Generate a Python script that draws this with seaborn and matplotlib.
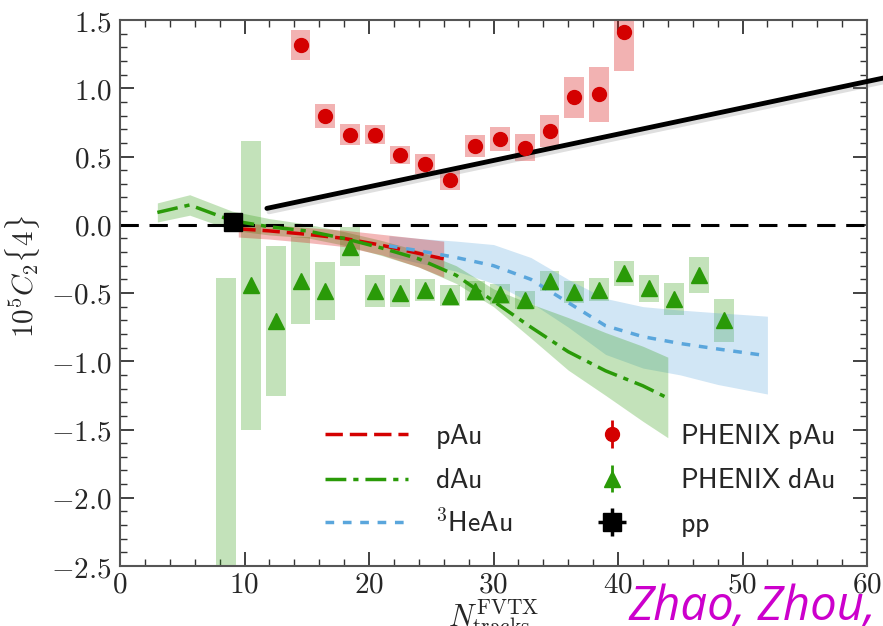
import numpy as np
import pandas as pd
import matplotlib
matplotlib.use("Agg")
import matplotlib.pyplot as plt
import matplotlib.patheffects as pe
from matplotlib.ticker import FuncFormatter, MultipleLocator
import seaborn as sns

# ---------------- data ----------------
# PHENIX pAu (points + systematic boxes)
pau_x = [14.5, 16.5, 18.5, 20.5, 22.5, 24.5, 26.5, 28.5, 30.5, 32.5, 34.5, 36.5, 38.5, 40.5]
pau_y = [1.32, 0.80, 0.66, 0.66, 0.51, 0.445, 0.33, 0.575, 0.625, 0.565, 0.685, 0.935, 0.955, 1.41]
pau_sys = [0.11, 0.088, 0.077, 0.072, 0.067, 0.07, 0.072, 0.08, 0.088, 0.10, 0.117, 0.15, 0.20, 0.28]

# PHENIX dAu
dau_x = [8.5, 10.5, 12.5, 14.5, 16.5, 18.5, 20.5, 22.5, 24.5, 26.5, 28.5,
         30.5, 32.5, 34.5, 36.5, 38.5, 40.5, 42.5, 44.5, 46.5, 48.5]
dau_y = [-3.0, -0.445, -0.705, -0.41, -0.485, -0.16, -0.485, -0.50, -0.476, -0.52, -0.485,
         -0.505, -0.55, -0.41, -0.49, -0.475, -0.357, -0.467, -0.545, -0.368, -0.70]
dau_sys = [2.61, 1.055, 0.547, 0.32, 0.21, 0.14, 0.12, 0.10, 0.08, 0.075, 0.073,
           0.073, 0.067, 0.073, 0.08, 0.083, 0.094, 0.10, 0.116, 0.135, 0.156]

# pp point
pp_x = [9.1]
pp_y = [0.017]

# theory: pAu
th_pau_x = [9.5, 12, 15, 18, 21, 24, 26]
th_pau_y = [-0.03, -0.045, -0.07, -0.10, -0.15, -0.21, -0.25]
th_pau_hi = [0.015, 0.0, -0.02, -0.04, -0.07, -0.10, -0.12]
th_pau_lo = [-0.09, -0.105, -0.13, -0.16, -0.22, -0.31, -0.385]

# theory: dAu
th_dau_x = [3, 5.6, 9, 12, 15, 18, 21, 24, 27, 30, 33, 36, 39, 42, 44]
th_dau_y = [0.09, 0.145, 0.03, -0.015, -0.045, -0.10, -0.17, -0.25, -0.37, -0.56, -0.75, -0.93, -1.07, -1.18, -1.27]
th_dau_hi = [0.16, 0.22, 0.10, 0.045, 0.005, -0.05, -0.115, -0.19, -0.30, -0.47, -0.58, -0.68, -0.79, -0.89, -0.97]
th_dau_lo = [0.02, 0.07, -0.04, -0.075, -0.095, -0.15, -0.225, -0.31, -0.43, -0.60, -0.83, -1.065, -1.25, -1.44, -1.56]

# theory: 3HeAu
th_he_x = [21.6, 24, 27, 30, 33, 36, 39, 42, 45, 48, 52]
th_he_y = [-0.155, -0.19, -0.24, -0.30, -0.40, -0.57, -0.74, -0.82, -0.87, -0.91, -0.96]
th_he_hi = [-0.08, -0.10, -0.12, -0.145, -0.24, -0.40, -0.54, -0.60, -0.625, -0.645, -0.67]
th_he_lo = [-0.23, -0.28, -0.34, -0.43, -0.57, -0.75, -0.95, -1.05, -1.10, -1.17, -1.24]

# black trend line (endpoints)
trend_x = [11.8, 62.0]
trend_y = [0.12, 1.088]

# ---------------- style ----------------
sns.set_style("ticks")
plt.rcParams["mathtext.fontset"] = "cm"
plt.rcParams["font.family"] = ["DejaVu Sans"]

RED = "#d40000"
GREEN = "#2a9a08"
BLUE = "#5aa6dc"

fig = plt.figure(figsize=(8.83, 6.26), dpi=100)
ax = fig.add_axes([120 / 883, 1 - 566 / 626, (867 - 120) / 883, (566 - 20) / 626])

# systematic boxes
ax.bar(dau_x, [2 * s for s in dau_sys], bottom=[y - s for y, s in zip(dau_y, dau_sys)],
       width=1.6, color=GREEN, alpha=0.28, linewidth=0, zorder=1)
ax.bar(pau_x, [2 * s for s in pau_sys], bottom=[y - s for y, s in zip(pau_y, pau_sys)],
       width=1.6, color=RED, alpha=0.3, linewidth=0, zorder=1)

# theory bands
ax.fill_between(th_he_x, th_he_lo, th_he_hi, color=BLUE, alpha=0.28, linewidth=0, zorder=2)
ax.fill_between(th_dau_x, th_dau_lo, th_dau_hi, color=GREEN, alpha=0.28, linewidth=0, zorder=2)
ax.fill_between(th_pau_x, th_pau_lo, th_pau_hi, color=RED, alpha=0.28, linewidth=0, zorder=2)

# zero line
ax.axhline(0, color="black", lw=2.2, ls=(0, (6, 3.5)), zorder=2.5)

# theory lines via seaborn
df_pau = pd.DataFrame({"x": th_pau_x, "y": th_pau_y})
df_dau = pd.DataFrame({"x": th_dau_x, "y": th_dau_y})
df_he = pd.DataFrame({"x": th_he_x, "y": th_he_y})
sns.lineplot(data=df_pau, x="x", y="y", ax=ax, color=RED, lw=2.5,
             linestyle=(0, (5, 2)), label="$\\mathsf{pAu}$", zorder=4)
sns.lineplot(data=df_dau, x="x", y="y", ax=ax, color=GREEN, lw=2.5,
             linestyle=(0, (6, 2, 1.5, 2)), label="$\\mathsf{dAu}$", zorder=4)
sns.lineplot(data=df_he, x="x", y="y", ax=ax, color=BLUE, lw=2.5,
             linestyle=(0, (2.5, 2.5)), label="$^3\\mathsf{HeAu}$", zorder=4)

# trend line with shadow
ax.plot(trend_x, trend_y, color="black", lw=3.5, clip_on=False, zorder=5,
        path_effects=[pe.SimpleLineShadow(offset=(1.5, -2.5), alpha=0.25, shadow_color="gray"),
                      pe.Normal()])

# data points
e1 = ax.errorbar(pau_x, pau_y, yerr=[0.02] * len(pau_x), fmt="o", color=RED, ms=10,
                 elinewidth=2, capsize=0, zorder=6, label="$\\mathsf{PHENIX\\ pAu}$")
e2 = ax.errorbar(dau_x, dau_y, yerr=[0.02] * len(dau_x), fmt="^", color=GREEN, ms=11,
                 elinewidth=2, capsize=0, zorder=6, label="$\\mathsf{PHENIX\\ dAu}$")
e3 = ax.errorbar(pp_x, pp_y, xerr=[0.4], yerr=[0.03], fmt="s", color="black", ms=13,
                 elinewidth=2.5, capsize=0, zorder=7, label="$\\mathsf{pp}$")

# axes
ax.set_xlim(0, 60)
ax.set_ylim(-2.5, 1.5)
ax.xaxis.set_major_locator(MultipleLocator(10))
ax.xaxis.set_minor_locator(MultipleLocator(2))
ax.yaxis.set_major_locator(MultipleLocator(0.5))
ax.yaxis.set_minor_locator(MultipleLocator(0.1))
ax.xaxis.set_major_formatter(FuncFormatter(lambda v, p: f"${int(round(v))}$"))
ax.yaxis.set_major_formatter(FuncFormatter(lambda v, p: f"${v:.1f}$"))
ax.tick_params(which="both", direction="in", top=True, right=True, color="#333333")
ax.tick_params(which="major", length=10, width=1.3, labelsize=21)
ax.tick_params(which="minor", length=5, width=1.0)
ax.tick_params(axis="x", which="major", pad=3)
ax.tick_params(axis="y", which="major", pad=6)
for s in ax.spines.values():
    s.set_color("#555555")
    s.set_linewidth(1.5)

ax.set_xlabel("$N^{\\rm FVTX}_{\\rm tracks}$", fontsize=22)
ax.xaxis.set_label_coords(0.5, -0.058)
ax.set_ylabel("$10^5C_2\\{4\\}$", fontsize=21)
ax.yaxis.set_label_coords(-0.105, 0.53)

# legend
h, l = ax.get_legend_handles_labels()
order = ["$\\mathsf{pAu}$", "$\\mathsf{dAu}$", "$^3\\mathsf{HeAu}$",
         "$\\mathsf{PHENIX\\ pAu}$", "$\\mathsf{PHENIX\\ dAu}$", "$\\mathsf{pp}$"]
hd = dict(zip(l, h))
leg = ax.legend([hd[k] for k in order], order, ncol=2, loc="upper left",
                bbox_to_anchor=((325 - 120) / 747, (566 - 422) / 546),
                frameon=False, fontsize=20, borderpad=0, borderaxespad=0,
                handlelength=3.0, handletextpad=0.95, columnspacing=2.1,
                labelspacing=0.55)

fig.text(628 / 883, 1 - 620 / 626, "Zhao, Zhou,", color="#cc00cc", fontsize=34,
         family="Open Sans", style="italic", ha="left", va="baseline")

fig.savefig("out.png", dpi=100)
